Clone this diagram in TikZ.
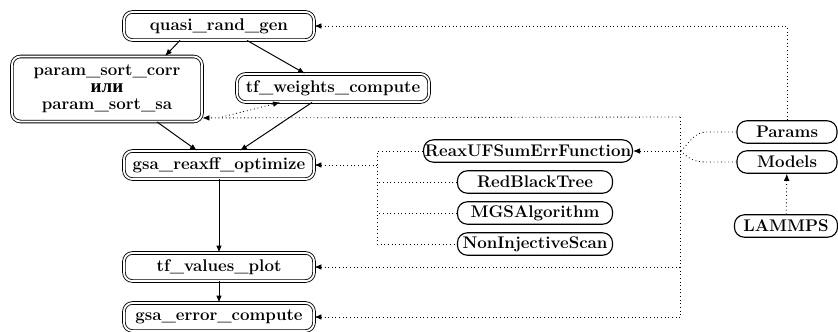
\documentclass[tikz,border=0pt]{standalone}
\usepackage{fontspec}
\newfontfamily\cyrfont{Liberation Serif}
\usepackage{tikz}
\usetikzlibrary{
  positioning,
  calc,
  arrows.meta
}
\tikzstyle{prog}=[draw, double, double distance=1.3pt, line width=0.6pt, rounded corners=6pt, minimum width=4.75cm, minimum height=0.7cm, inner sep=1pt, font=\large\bfseries, align=center]
\tikzstyle{cls}=[draw, line width=0.8pt, rounded corners=7pt, minimum height=0.56cm, inner sep=1pt, font=\large\bfseries]
\tikzstyle{call}=[->, >={Latex[length=5pt,width=4pt]}, line width=0.7pt]
\tikzstyle{dep}=[->, >={Latex[length=5pt,width=4pt]}, dotted, line width=0.6pt]
\tikzstyle{bus}=[dotted, line width=0.6pt]

\begin{document}
\begin{tikzpicture}[x=0.025cm, y=-0.025cm]
    \useasboundingbox (0,0) rectangle (838,331);

    % программы
    \node[prog] (qrg) at (219,26) {quasi\_rand\_gen};
    \node[prog, minimum height=1.625cm] (psort) at (107,89) {param\_sort\_corr\\[-2pt]{\cyrfont\fontsize{13.5}{14}\selectfont или}\\[-2pt]param\_sort\_sa};
    \node[prog, minimum width=4.8cm] (tfw) at (333,88) {tf\_weights\_compute};
    \node[prog] (gsaopt) at (219,165) {gsa\_reaxff\_optimize};
    \node[prog] (tfplot) at (219,267) {tf\_values\_plot};
    \node[prog] (gsaerr) at (219,317) {gsa\_error\_compute};

    % классы
    \node[cls, minimum width=5.2cm] (reaxuf) at (528,151) {ReaxUFSumErrFunction};
    \node[cls, minimum width=3.875cm] (rbt) at (535,182) {RedBlackTree};
    \node[cls, minimum width=3.875cm] (mgs) at (535,213) {MGSAlgorithm};
    \node[cls, minimum width=3.875cm] (nis) at (535,244) {NonInjectiveScan};

    % данные
    \node[cls, minimum width=2.5cm] (params) at (787,132) {Params};
    \node[cls, minimum width=2.5cm] (models) at (787,162) {Models};
    \node[cls, minimum width=2.575cm] (lammps) at (786,226) {LAMMPS};

    % порядок вызова
    \draw[call] ([xshift=-0.975cm]qrg.south) -- ([xshift=1.45cm]psort.north);
    \draw[call] ([xshift=0.7cm]qrg.south) -- ([xshift=-0.7cm]tfw.north);
    \draw[call] ([xshift=1.25cm]psort.south) -- ([xshift=-0.55cm]gsaopt.north);
    \draw[call] ([xshift=-0.525cm]tfw.south) -- ([xshift=0.525cm]gsaopt.north);
    \draw[call] (gsaopt) -- (tfplot);
    \draw[call] (tfplot) -- (gsaerr);

    % классы -> gsa_reaxff_optimize
    \coordinate (bk) at (377,151);
    \draw[bus] (reaxuf.west) -- (bk) -- (bk |- nis.west) -- (nis.west);
    \draw[bus] (rbt.west) -- (bk |- rbt.west);
    \draw[bus] (mgs.west) -- (bk |- mgs.west);
    \draw[dep] (bk |- gsaopt.east) -- (gsaopt.east);

    % Params, Models
    \coordinate (jn) at ([xshift=1.2cm]reaxuf.east);
    \coordinate (bt) at (680,117);
    \coordinate (tk) at (222,117);
    \draw[dep] (params.north) |- (qrg.east);
    \draw[bus] (params.west) -- ++(-30,0) .. controls +(-12,0) and +(8,-8) .. (jn);
    \draw[bus] (models.west) -- ++(-30,0) .. controls +(-12,0) and +(8,8) .. (jn);
    \draw[dep] (jn) -- (reaxuf.east);
    \draw[bus] (bt) -- (bt |- gsaerr.east);
    \draw[dep] (bt) -- ([yshift=0.1cm]psort.south east);
    \draw[dep] (tk) -- ([xshift=-1.325cm]tfw.south);
    \draw[dep] (bt |- tfplot.east) -- (tfplot.east);
    \draw[dep] (bt |- gsaerr.east) -- (gsaerr.east);
    \draw[dep] (lammps) -- (models);
  \end{tikzpicture}
\end{document}
